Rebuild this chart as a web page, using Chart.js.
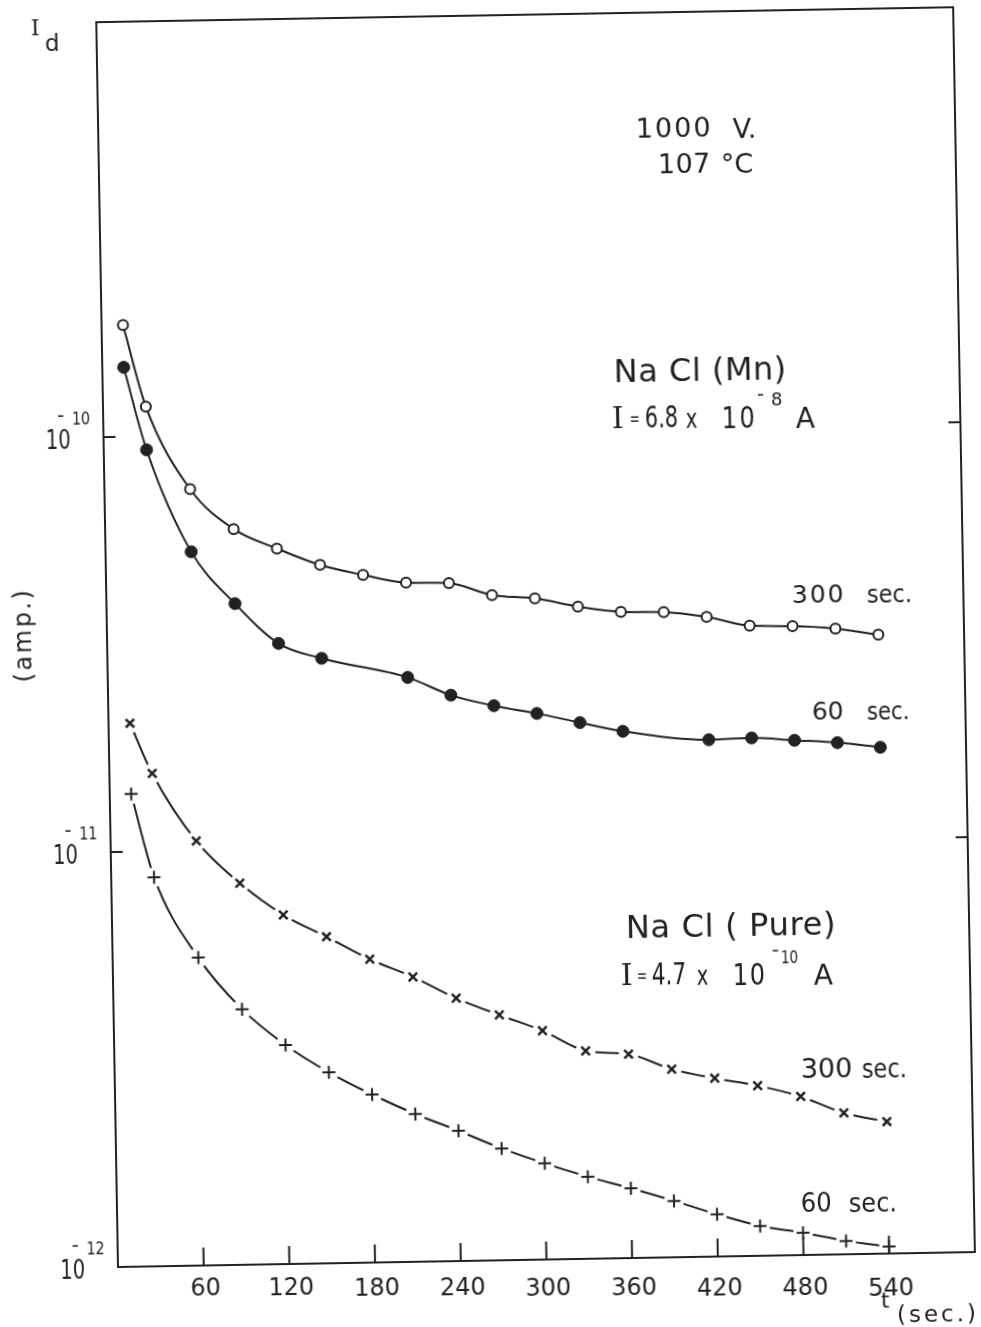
<!DOCTYPE html>
<html>
<head>
<meta charset="utf-8">
<title>Dark current decay, NaCl</title>
<script src="https://cdn.jsdelivr.net/npm/chart.js@4.4.1/dist/chart.umd.min.js"></script>
<style>
  html, body { margin: 0; padding: 0; background: #fff; overflow: hidden; width: 981px; height: 1327px; }
  /* the scanned sheet sits about one degree off square, so the canvas is turned the same way */
  #sheet { position: absolute; left: 0; top: 0; width: 1000px; height: 1360px;
           transform: rotate(-1deg); transform-origin: 118px 1267px; }
  canvas { display: block; }
</style>
</head>
<body>
<div id="sheet"><canvas id="currentChart" width="1000" height="1360"></canvas></div>
<script>
// time of the reading (sec.)
const times = [15, 30, 60, 90, 120, 150, 180, 210, 240, 270, 300, 330, 360, 390, 420, 450, 480, 510, 540];
const mnTimes60 = [15, 30, 60, 90, 120, 150, 210, 240, 270, 300, 330, 360, 420, 450, 480, 510, 540];

// Na Cl (Mn), I = 6.8 x 10^-8 A  (amp.)
const mn300 = [1.86e-10, 1.18e-10, 7.43e-11, 5.93e-11, 5.30e-11, 4.82e-11, 4.54e-11, 4.33e-11, 4.30e-11, 4.01e-11,
               3.92e-11, 3.73e-11, 3.61e-11, 3.59e-11, 3.48e-11, 3.30e-11, 3.28e-11, 3.22e-11, 3.10e-11];
const mn60 = [1.47e-10, 9.28e-11, 5.25e-11, 3.92e-11, 3.13e-11, 2.87e-11, 2.56e-11, 2.31e-11, 2.17e-11,
              2.07e-11, 1.96e-11, 1.86e-11, 1.76e-11, 1.77e-11, 1.74e-11, 1.71e-11, 1.66e-11];

// Na Cl (Pure), I = 4.7 x 10^-10 A  (amp.)
const pure300 = [2.04e-11, 1.54e-11, 1.055e-11, 8.31e-12, 6.94e-12, 6.12e-12, 5.38e-12, 4.86e-12, 4.30e-12, 3.90e-12,
                 3.56e-12, 3.17e-12, 3.10e-12, 2.84e-12, 2.69e-12, 2.57e-12, 2.41e-12, 2.19e-12, 2.08e-12];
const pure60 = [1.377e-11, 8.66e-12, 5.52e-12, 4.13e-12, 3.37e-12, 2.885e-12, 2.54e-12, 2.27e-12, 2.06e-12, 1.86e-12,
                1.705e-12, 1.577e-12, 1.472e-12, 1.367e-12, 1.264e-12, 1.18e-12, 1.132e-12, 1.077e-12, 1.039e-12];

const xTickValues = [60, 120, 180, 240, 300, 360, 420, 480, 540];
const yTickValues = [1e-12, 1e-11, 1e-10];
const yTickExponents = ['12', '11', '10'];

const INK = '#222';
const SANS = '"DejaVu Sans", sans-serif';
const SERIF = '"DejaVu Serif", serif';

const TILT = Math.PI / 180;
const PIVOT = { x: 118, y: 1267 };

// position on the (tilted) sheet -> position on the canvas
function unTilt(x, y) {
    const dx = x - PIVOT.x, dy = y - PIVOT.y;
    const c = Math.cos(TILT), s = Math.sin(TILT);
    return { x: PIVOT.x + dx * c - dy * s, y: PIVOT.y + dx * s + dy * c };
}

// position on the canvas -> position on the sheet
function tilt(x, y) {
    const dx = x - PIVOT.x, dy = y - PIVOT.y;
    const c = Math.cos(TILT), s = Math.sin(TILT);
    return { x: PIVOT.x + dx * c + dy * s, y: PIVOT.y - dx * s + dy * c };
}

function points(xs, ys) {
    return xs.map((x, i) => ({ x: x, y: ys[i] }));
}

// hand lettering on the sheet: left edge and baseline in sheet pixels
const notes = [
    { t: 'I', x: 31, y: 35, size: 22, serif: true },
    { t: 'd', x: 45, y: 51, size: 23 },

    { t: '1000', x: 636, y: 138, size: 27, sp: 2 },
    { t: 'V.', x: 733, y: 138, size: 27 },
    { t: '107', x: 658, y: 173, size: 27, sp: 0.5 },
    { t: '°C', x: 721, y: 173, size: 27 },

    { t: 'Na Cl (Mn)', x: 614, y: 382, size: 32, sp: 0.5 },
    { t: 'I', x: 612, y: 428, size: 30, serif: true },
    { t: '=', x: 630, y: 425, size: 20, sq: 0.6 },
    { t: '6.8', x: 645, y: 428, size: 30, sq: 0.7 },
    { t: 'x', x: 686, y: 428, size: 26, sq: 0.75 },
    { t: '10', x: 722, y: 428, size: 30, sp: 3, sq: 0.8 },
    { t: '-', x: 757, y: 401, size: 20 },
    { t: '8', x: 771, y: 405, size: 18 },
    { t: 'A', x: 796, y: 428, size: 28 },

    { t: '300', x: 792, y: 603, size: 25, sp: 2 },
    { t: 'sec.', x: 867, y: 603, size: 25, sq: 0.9 },
    { t: '60', x: 812, y: 720, size: 25 },
    { t: 'sec.', x: 867, y: 720, size: 25, sq: 0.85 },

    { t: 'Na Cl ( Pure)', x: 626, y: 938, size: 32, sp: 0.7 },
    { t: 'I', x: 621, y: 985, size: 30, serif: true },
    { t: '=', x: 637, y: 982, size: 20, sq: 0.6 },
    { t: '4.7', x: 652, y: 985, size: 30, sq: 0.72 },
    { t: 'x', x: 697, y: 985, size: 26, sq: 0.75 },
    { t: '10', x: 733, y: 985, size: 30, sp: 2, sq: 0.8 },
    { t: '-', x: 772, y: 957, size: 20 },
    { t: '10', x: 781, y: 963, size: 18, sq: 0.75 },
    { t: 'A', x: 814, y: 985, size: 28 },

    { t: '300', x: 801, y: 1078, size: 27 },
    { t: 'sec.', x: 862, y: 1078, size: 27, sq: 0.83 },
    { t: '60', x: 801, y: 1212, size: 27, sq: 0.9 },
    { t: 'sec.', x: 849, y: 1212, size: 27, sq: 0.89 },

    { t: 't', x: 881, y: 1308, size: 22 },
    { t: '(sec.)', x: 897, y: 1322, size: 23, sp: 3 }
];

function letter(ctx, n) {
    const p = unTilt(n.x, n.y);
    ctx.save();
    ctx.translate(p.x, p.y);
    ctx.scale(n.sq || 1, 1);
    ctx.font = `${n.size}px ${n.serif ? SERIF : SANS}`;
    ctx.letterSpacing = (n.sp || 0) + 'px';
    ctx.textAlign = 'left';
    ctx.textBaseline = 'alphabetic';
    ctx.fillText(n.t, 0, 0);
    ctx.restore();
}

const paperPlugin = {
    id: 'paper',
    afterDatasetsDraw(chart) {
        const { ctx, chartArea: a, scales: { x, y } } = chart;
        ctx.save();
        ctx.strokeStyle = INK;
        ctx.fillStyle = INK;
        ctx.lineWidth = 2;
        ctx.strokeRect(a.left, a.top, a.right - a.left, a.bottom - a.top);

        // inward tick marks
        ctx.beginPath();
        xTickValues.forEach(v => {
            const px = x.getPixelForValue(v);
            ctx.moveTo(px, a.bottom);
            ctx.lineTo(px, a.bottom - 18);
        });
        yTickValues.forEach(v => {
            if (v <= y.min) return;
            const py = y.getPixelForValue(v);
            ctx.moveTo(a.left, py);
            ctx.lineTo(a.left + 12, py);
            ctx.moveTo(a.right, py);
            ctx.lineTo(a.right - 12, py);
        });
        ctx.stroke();

        // time labels are lettered on a level line of the sheet
        ctx.font = `24px ${SANS}`;
        ctx.textAlign = 'center';
        ctx.textBaseline = 'middle';
        xTickValues.forEach(v => {
            const onSheet = tilt(x.getPixelForValue(v), a.bottom);
            const p = unTilt(onSheet.x + 2, 1289);
            ctx.fillText(String(v), p.x, p.y);
        });

        // decade labels 10^-n
        ctx.textBaseline = 'alphabetic';
        yTickValues.forEach((v, i) => {
            const py = y.getPixelForValue(v);
            ctx.save();
            ctx.translate(a.left - 33, py + 11);
            ctx.scale(0.72, 1);
            ctx.textAlign = 'right';
            ctx.font = `27px ${SANS}`;
            ctx.fillText('10', 0, 0);
            ctx.restore();

            ctx.save();
            ctx.translate(a.left - 13, py - 13);
            ctx.scale(0.8, 1);
            ctx.textAlign = 'right';
            ctx.font = `18px ${SANS}`;
            ctx.fillText(yTickExponents[i], 0, 0);
            ctx.restore();

            ctx.textAlign = 'left';
            ctx.font = `20px ${SANS}`;
            ctx.fillText('-', a.left - 46, py - 16);
        });

        // vertical unit label
        const amp = unTilt(25, 635);
        ctx.save();
        ctx.translate(amp.x, amp.y);
        ctx.rotate(-Math.PI / 2);
        ctx.textAlign = 'center';
        ctx.textBaseline = 'middle';
        ctx.font = `24px ${SANS}`;
        ctx.letterSpacing = '2.5px';
        ctx.fillText('(amp.)', 0, 0);
        ctx.restore();

        notes.forEach(n => letter(ctx, n));
        ctx.restore();
    }
};

const ctx = document.getElementById('currentChart').getContext('2d');

new Chart(ctx, {
    type: 'line',
    data: {
        datasets: [
            {
                label: 'Na Cl (Mn) 300 sec.',
                data: points(times, mn300),
                borderColor: INK,
                borderWidth: 2,
                cubicInterpolationMode: 'monotone',
                pointStyle: 'circle',
                pointRadius: 5,
                pointBorderWidth: 2,
                pointBackgroundColor: '#fff',
                pointBorderColor: INK,
                order: 1
            },
            {
                label: 'Na Cl (Mn) 60 sec.',
                data: points(mnTimes60, mn60),
                borderColor: INK,
                borderWidth: 2,
                cubicInterpolationMode: 'monotone',
                pointStyle: 'circle',
                pointRadius: 6,
                pointBorderWidth: 1,
                pointBackgroundColor: INK,
                pointBorderColor: INK,
                order: 1
            },
            // the pure-crystal curves are broken round each reading: white discs cut the line
            {
                label: 'Na Cl (Pure) 300 sec. curve',
                data: points(times, pure300),
                borderColor: INK,
                borderWidth: 2,
                cubicInterpolationMode: 'monotone',
                pointStyle: 'circle',
                pointRadius: 10,
                pointBorderWidth: 0,
                pointBackgroundColor: '#fff',
                pointBorderColor: '#fff',
                order: 3
            },
            {
                label: 'Na Cl (Pure) 300 sec.',
                data: points(times, pure300),
                showLine: false,
                pointStyle: 'crossRot',
                pointRadius: 6,
                pointBorderWidth: 2.5,
                pointBorderColor: INK,
                order: 0
            },
            {
                label: 'Na Cl (Pure) 60 sec. curve',
                data: points(times, pure60),
                borderColor: INK,
                borderWidth: 2,
                cubicInterpolationMode: 'monotone',
                pointStyle: 'circle',
                pointRadius: 10,
                pointBorderWidth: 0,
                pointBackgroundColor: '#fff',
                pointBorderColor: '#fff',
                order: 3
            },
            {
                label: 'Na Cl (Pure) 60 sec.',
                data: points(times, pure60),
                showLine: false,
                pointStyle: 'cross',
                pointRadius: 6.5,
                pointBorderWidth: 2,
                pointBorderColor: INK,
                order: 0
            }
        ]
    },
    options: {
        responsive: false,
        animation: false,
        events: [],
        layout: {
            padding: { left: 0, right: 25, top: 22, bottom: 0 }
        },
        plugins: {
            legend: { display: false },
            tooltip: { enabled: false }
        },
        scales: {
            x: {
                type: 'linear',
                min: 0,
                max: 600,
                grid: { display: false, drawTicks: false },
                border: { display: false },
                ticks: { display: false },
                afterFit: function(scale) { scale.height = 1360 - 1267; }
            },
            y: {
                type: 'logarithmic',
                min: 1e-12,
                max: 1e-9,
                grid: { display: false, drawTicks: false },
                border: { display: false },
                ticks: { display: false },
                afterFit: function(scale) { scale.width = 118; }
            }
        }
    },
    plugins: [paperPlugin]
});
</script>
</body>
</html>
